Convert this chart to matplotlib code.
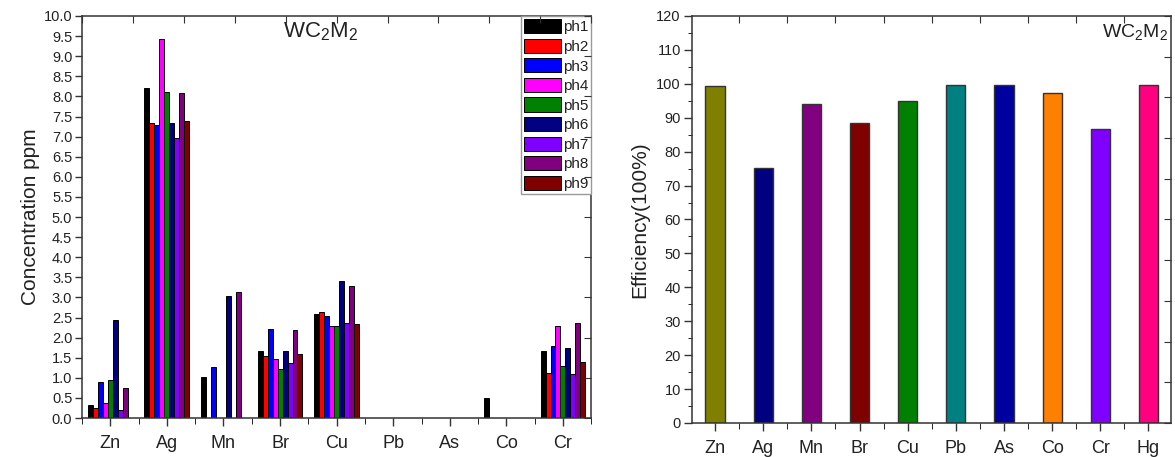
import numpy as np
import matplotlib
matplotlib.use('Agg')
import matplotlib.pyplot as plt
from matplotlib.ticker import MultipleLocator, FixedLocator, NullFormatter

plt.rcParams['font.family'] = ['Liberation Sans', 'DejaVu Sans']
plt.rcParams['mathtext.default'] = 'regular'

# left panel: concentration per element for each ph
elements_left = ['Zn', 'Ag', 'Mn', 'Br', 'Cu', 'Pb', 'As', 'Co', 'Cr']
series_names = ['ph1', 'ph2', 'ph3', 'ph4', 'ph5', 'ph6', 'ph7', 'ph8', 'ph9']
ph1 = [0.32, 8.22, 1.01, 1.67, 2.59, 0, 0, 0.49, 1.67]
ph2 = [0.25, 7.35, 0, 1.55, 2.64, 0, 0, 0, 1.11]
ph3 = [0.90, 7.28, 1.26, 2.22, 2.55, 0, 0, 0, 1.80]
ph4 = [0.38, 9.42, 0, 1.48, 2.28, 0, 0, 0, 2.29]
ph5 = [0.94, 8.12, 0, 1.21, 2.29, 0, 0, 0, 1.29]
ph6 = [2.43, 7.35, 3.03, 1.67, 3.41, 0, 0, 0, 1.75]
ph7 = [0.21, 6.96, 0, 1.36, 2.36, 0, 0, 0, 1.09]
ph8 = [0.75, 8.09, 3.13, 2.19, 3.28, 0, 0, 0, 2.36]
ph9 = [0, 7.40, 0, 1.59, 2.33, 0, 0, 0, 1.40]
ph_colors = ['#000000', '#FF0000', '#0000FF', '#FF00FF', '#008000',
             '#000080', '#8000FF', '#800080', '#800000']

# right panel: removal efficiency
elements_right = ['Zn', 'Ag', 'Mn', 'Br', 'Cu', 'Pb', 'As', 'Co', 'Cr', 'Hg']
efficiency = [99.4, 75.2, 94.0, 88.4, 95.0, 99.8, 99.8, 97.3, 86.6, 99.8]
eff_colors = ['#808000', '#000080', '#800080', '#800000', '#008000',
              '#008080', '#0000A0', '#FF8000', '#8000FF', '#FF0080']

txt = '#222222'
spine_c = '#333333'


def style_axes(ax):
    for s in ax.spines.values():
        s.set_color(spine_c)
        s.set_linewidth(1.1)
    ax.tick_params(colors=spine_c, labelcolor=txt, width=1.0)


fig = plt.figure(figsize=(11.75, 4.57), dpi=100)

# ---- left panel ----
ax1 = fig.add_axes([0.0698, 0.0853, 0.4334, 0.8797])
style_axes(ax1)
series = [ph1, ph2, ph3, ph4, ph5, ph6, ph7, ph8, ph9]
x = np.arange(len(elements_left))
w = 0.088
for i, vals in enumerate(series):
    ax1.bar(x + (i - 4) * w, vals, w, color=ph_colors[i], edgecolor='black',
            linewidth=0.7, label=series_names[i], zorder=2)
ax1.set_xlim(-0.5, 8.5)
ax1.set_ylim(0, 10)
ax1.yaxis.set_major_locator(MultipleLocator(0.5))
ax1.yaxis.set_major_formatter(matplotlib.ticker.FormatStrFormatter('%.1f'))
ax1.set_xticks(x)
ax1.set_xticklabels(elements_left, fontsize=13)
ax1.xaxis.set_minor_locator(FixedLocator(np.arange(-0.5, 9, 1.0)))
ax1.tick_params(axis='y', labelsize=10.5, direction='out', length=5, pad=2)
ax1.tick_params(axis='x', which='major', direction='out', length=6, pad=6)
ax1.tick_params(axis='x', which='minor', direction='out', length=4)
ax1.set_ylabel('Concentration ppm', fontsize=15, color=txt, labelpad=3)
ax1.text(0.468, 0.962, 'WC$_2$M$_2$', transform=ax1.transAxes, fontsize=16,
         ha='center', va='center', color=txt)
leg = ax1.legend(loc='upper right', fontsize=11, handlelength=2.4, handleheight=1.05,
                 labelspacing=0.28, handletextpad=0.15, borderpad=0.2,
                 borderaxespad=0.0, fancybox=False, framealpha=1)
leg.get_frame().set_edgecolor('#999999')
leg.get_frame().set_linewidth(1.0)
for t in leg.get_texts():
    t.set_color(txt)

# stray ticks on top and right spines
t1 = ax1.twinx()
t1.set_ylim(0, 10)
t1.yaxis.set_major_locator(MultipleLocator(1.0))
t1.yaxis.set_major_formatter(NullFormatter())
t1.tick_params(axis='y', direction='in', length=5, colors=spine_c)
for s in t1.spines.values():
    s.set_visible(False)
u1 = ax1.twiny()
u1.set_xlim(-0.5, 8.5)
u1.xaxis.set_major_locator(FixedLocator(np.arange(-0.5, 8.6, 0.9)))
u1.xaxis.set_major_formatter(NullFormatter())
u1.tick_params(axis='x', direction='in', length=5, colors=spine_c)
for s in u1.spines.values():
    s.set_visible(False)

# ---- right panel ----
ax2 = fig.add_axes([0.5889, 0.0744, 0.4074, 0.8906])
style_axes(ax2)
x2 = np.arange(len(elements_right))
ax2.bar(x2, efficiency, 0.4, color=eff_colors, edgecolor='#333333',
        linewidth=1.0, zorder=2)
ax2.set_xlim(-0.48, 9.46)
ax2.set_ylim(0, 120)
ax2.yaxis.set_major_locator(MultipleLocator(10))
ax2.yaxis.set_minor_locator(MultipleLocator(5))
ax2.set_xticks(x2)
ax2.set_xticklabels(elements_right, fontsize=13)
ax2.xaxis.set_minor_locator(FixedLocator(np.arange(-0.5, 10, 1.0)))
ax2.tick_params(axis='y', which='major', labelsize=10.5, direction='out', length=6, pad=2)
ax2.tick_params(axis='y', which='minor', direction='out', length=3)
ax2.tick_params(axis='x', which='major', direction='out', length=6, pad=6)
ax2.tick_params(axis='x', which='minor', direction='out', length=4)
ax2.set_ylabel('Efficiency(100%)', fontsize=15, color=txt, labelpad=5)
ax2.text(0.995, 0.96, 'WC$_2$M$_2$', transform=ax2.transAxes, fontsize=14,
         ha='right', va='center', color=txt)

t2 = ax2.twinx()
t2.set_ylim(0, 120)
t2.yaxis.set_major_locator(MultipleLocator(12))
t2.yaxis.set_major_formatter(NullFormatter())
t2.tick_params(axis='y', direction='in', length=5, colors=spine_c)
for s in t2.spines.values():
    s.set_visible(False)
u2 = ax2.twiny()
u2.set_xlim(-0.48, 9.46)
u2.xaxis.set_major_locator(FixedLocator(np.arange(0.5, 9, 1.0)))
u2.xaxis.set_major_formatter(NullFormatter())
u2.tick_params(axis='x', direction='in', length=5, colors=spine_c)
for s in u2.spines.values():
    s.set_visible(False)

fig.savefig('out.png', dpi=100)
